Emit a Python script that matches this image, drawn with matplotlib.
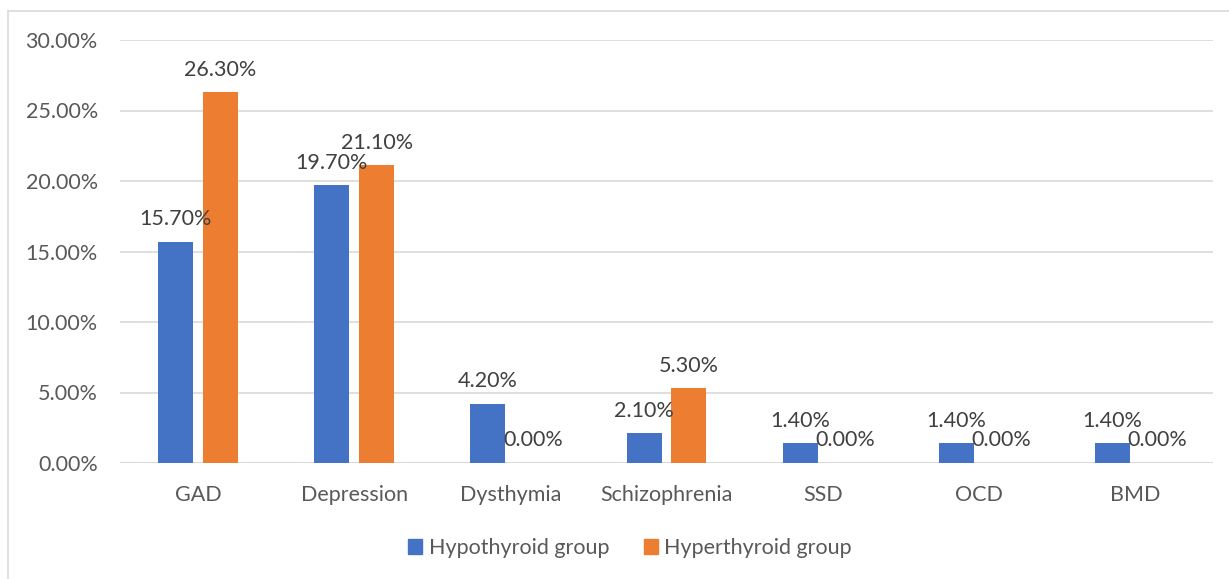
import matplotlib
matplotlib.use("Agg")
import matplotlib.pyplot as plt
from matplotlib.lines import Line2D
from matplotlib.patches import Patch
from matplotlib.ticker import FuncFormatter
import numpy as np

categories = ["GAD", "Depression", "Dysthymia", "Schizophrenia", "SSD", "OCD", "BMD"]
hypothyroid = [15.7, 19.7, 4.2, 2.1, 1.4, 1.4, 1.4]
hyperthyroid = [26.3, 21.1, 0.0, 5.3, 0.0, 0.0, 0.0]
series_names = ["Hypothyroid group", "Hyperthyroid group"]

BLUE = "#4472C4"
ORANGE = "#ED7D31"
TEXT = "#595959"
GRID = "#D9D9D9"
FONT = "Lato"
FS = 15.5

W, H = 1229, 579
fig = plt.figure(figsize=(W / 100, H / 100), dpi=100)
ax = fig.add_axes([120 / W, 1 - 463 / H, (1213 - 120) / W, (463 - 40) / H])

x = np.arange(len(categories))
width = 0.224
offset = 0.144
bars1 = ax.bar(x - offset, hypothyroid, width, color=BLUE, zorder=3)
bars2 = ax.bar(x + offset, hyperthyroid, width, color=ORANGE, zorder=3)

for bars, vals in ((bars1, hypothyroid), (bars2, hyperthyroid)):
    for b, v in zip(bars, vals):
        ax.annotate(f"{v:.2f}%", (b.get_x() + b.get_width() / 2, v),
                    xytext=(0, 9), textcoords="offset points",
                    ha="center", va="bottom", fontsize=FS, color="#404040",
                    family=FONT, zorder=4)

ax.set_xlim(-0.5, len(categories) - 0.5)
ax.set_ylim(0, 30)
ax.set_yticks(np.arange(0, 31, 5))
ax.yaxis.set_major_formatter(FuncFormatter(lambda v, p: f"{v:.2f}%"))
ax.set_xticks(x)
ax.set_xticklabels(categories)
ax.grid(axis="y", color=GRID, linewidth=1.2, zorder=0)
for s in ax.spines.values():
    s.set_visible(False)
ax.tick_params(length=0, labelsize=FS, labelcolor=TEXT, pad=0)
ax.tick_params(axis="y", pad=16)
ax.tick_params(axis="x", pad=16)
for lbl in ax.get_xticklabels() + ax.get_yticklabels():
    lbl.set_family(FONT)
ax.axhline(0, color=GRID, linewidth=1.5, zorder=2)

handles = [Patch(color=BLUE), Patch(color=ORANGE)]
fig.legend(handles, series_names, loc="center", bbox_to_anchor=(630 / W, 1 - 548 / H),
           ncol=2, frameon=False, prop={"family": FONT, "size": FS},
           labelcolor=TEXT, handlelength=0.65, handleheight=0.65,
           handletextpad=0.3, columnspacing=1.6)

# chart frame
fig.add_artist(Line2D([8 / W, 8 / W], [0, 1 - 11 / H], color=GRID, linewidth=1.2))
fig.add_artist(Line2D([8 / W, 1], [1 - 11 / H, 1 - 11 / H], color=GRID, linewidth=1.2))

fig.savefig("out.png", dpi=100, facecolor="white")
